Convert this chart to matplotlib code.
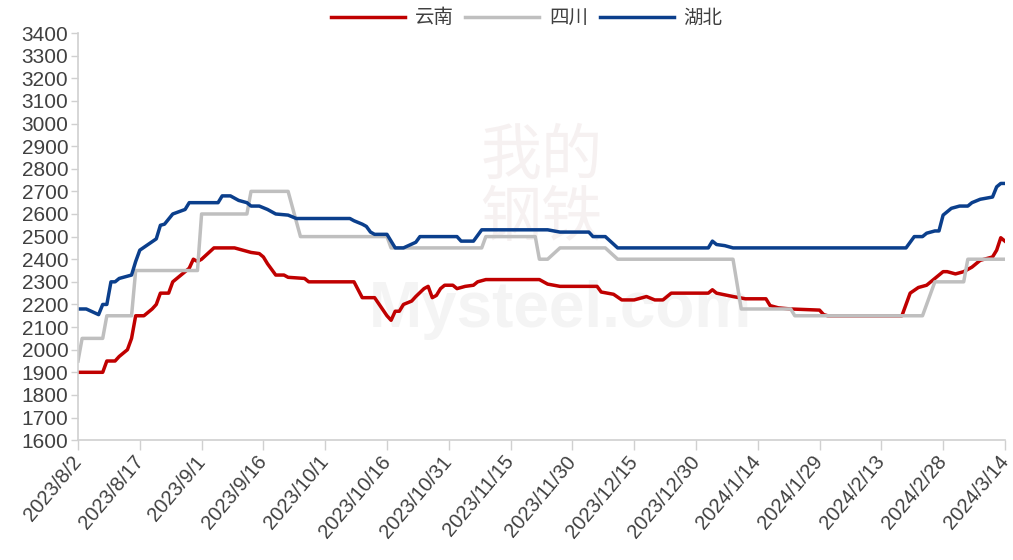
import datetime as dt
import matplotlib.pyplot as plt

plt.rcParams['font.family'] = ['Liberation Sans', 'DejaVu Sans']

# 云南
yn_dates = ['2023-08-02', '2023-08-08', '2023-08-09', '2023-08-11', '2023-08-12', '2023-08-14',
            '2023-08-15', '2023-08-16', '2023-08-18', '2023-08-20', '2023-08-21', '2023-08-22',
            '2023-08-24', '2023-08-25', '2023-08-27', '2023-08-29', '2023-08-30', '2023-08-31',
            '2023-09-01', '2023-09-04', '2023-09-09', '2023-09-11', '2023-09-13', '2023-09-15',
            '2023-09-16', '2023-09-17', '2023-09-19', '2023-09-21', '2023-09-22', '2023-09-26',
            '2023-09-27', '2023-10-08', '2023-10-09', '2023-10-10', '2023-10-13', '2023-10-16',
            '2023-10-17', '2023-10-18', '2023-10-19', '2023-10-20', '2023-10-22', '2023-10-23',
            '2023-10-25', '2023-10-26', '2023-10-27', '2023-10-28', '2023-10-29', '2023-10-30',
            '2023-11-01', '2023-11-02', '2023-11-04', '2023-11-06', '2023-11-07', '2023-11-09',
            '2023-11-22', '2023-11-24', '2023-11-27', '2023-12-06', '2023-12-07', '2023-12-10',
            '2023-12-12', '2023-12-15', '2023-12-18', '2023-12-20', '2023-12-22', '2023-12-24',
            '2024-01-02', '2024-01-03', '2024-01-04', '2024-01-08', '2024-01-11', '2024-01-16',
            '2024-01-17', '2024-01-19', '2024-01-22', '2024-01-29', '2024-01-30', '2024-01-31',
            '2024-02-18', '2024-02-19', '2024-02-20', '2024-02-22', '2024-02-24', '2024-02-26',
            '2024-02-28', '2024-02-29', '2024-03-02', '2024-03-04', '2024-03-06', '2024-03-08',
            '2024-03-11', '2024-03-12', '2024-03-13', '2024-03-14']
yn_values = [1900, 1900, 1950, 1950, 1970, 2000,
             2050, 2150, 2150, 2180, 2200, 2250,
             2250, 2300, 2330, 2360, 2400, 2390,
             2400, 2450, 2450, 2440, 2430, 2425,
             2410, 2380, 2330, 2330, 2320, 2315,
             2300, 2300, 2265, 2230, 2230, 2150,
             2130, 2170, 2170, 2200, 2215, 2235,
             2270, 2280, 2230, 2240, 2270, 2285,
             2285, 2270, 2280, 2285, 2300, 2310,
             2310, 2290, 2280, 2280, 2255, 2245,
             2220, 2220, 2235, 2220, 2220, 2250,
             2250, 2265, 2250, 2235, 2225, 2225,
             2195, 2185, 2180, 2175, 2155, 2150,
             2150, 2200, 2250, 2275, 2285, 2315,
             2345, 2345, 2335, 2345, 2365, 2395,
             2410, 2440, 2495, 2480]

# 四川
sc_dates = ['2023-08-02', '2023-08-03', '2023-08-08', '2023-08-09', '2023-08-15', '2023-08-16',
            '2023-08-31', '2023-09-01', '2023-09-12', '2023-09-13', '2023-09-22', '2023-09-25',
            '2023-10-16', '2023-10-17', '2023-11-08', '2023-11-09', '2023-11-21', '2023-11-22',
            '2023-11-24', '2023-11-27', '2023-12-08', '2023-12-11', '2024-01-08', '2024-01-10',
            '2024-01-22', '2024-01-23', '2024-02-23', '2024-02-26', '2024-03-04', '2024-03-05',
            '2024-03-14']
sc_values = [1950, 2050, 2050, 2150, 2150, 2350,
             2350, 2600, 2600, 2700, 2700, 2500,
             2500, 2450, 2450, 2500, 2500, 2400,
             2400, 2450, 2450, 2400, 2400, 2180,
             2180, 2150, 2150, 2300, 2300, 2400,
             2400]

# 湖北
hb_dates = ['2023-08-02', '2023-08-04', '2023-08-07', '2023-08-08', '2023-08-09', '2023-08-10',
            '2023-08-11', '2023-08-12', '2023-08-14', '2023-08-15', '2023-08-16', '2023-08-17',
            '2023-08-19', '2023-08-21', '2023-08-22', '2023-08-23', '2023-08-25', '2023-08-28',
            '2023-08-29', '2023-09-05', '2023-09-06', '2023-09-08', '2023-09-10', '2023-09-12',
            '2023-09-13', '2023-09-15', '2023-09-17', '2023-09-19', '2023-09-22', '2023-09-24',
            '2023-10-07', '2023-10-08', '2023-10-10', '2023-10-11', '2023-10-12', '2023-10-13',
            '2023-10-16', '2023-10-18', '2023-10-20', '2023-10-23', '2023-10-24', '2023-11-02',
            '2023-11-03', '2023-11-06', '2023-11-08', '2023-11-24', '2023-11-27', '2023-12-04',
            '2023-12-05', '2023-12-08', '2023-12-11', '2024-01-02', '2024-01-03', '2024-01-04',
            '2024-01-06', '2024-01-08', '2024-02-19', '2024-02-21', '2024-02-23', '2024-02-24',
            '2024-02-26', '2024-02-27', '2024-02-28', '2024-03-01', '2024-03-03', '2024-03-05',
            '2024-03-06', '2024-03-08', '2024-03-11', '2024-03-12', '2024-03-13', '2024-03-14']
hb_values = [2180, 2180, 2155, 2200, 2200, 2300,
             2300, 2315, 2325, 2330, 2390, 2440,
             2465, 2490, 2550, 2555, 2600, 2620,
             2650, 2650, 2680, 2680, 2660, 2650,
             2635, 2635, 2620, 2600, 2595, 2580,
             2580, 2570, 2555, 2545, 2520, 2510,
             2510, 2450, 2450, 2475, 2500, 2500,
             2480, 2480, 2530, 2530, 2520, 2520,
             2500, 2500, 2450, 2450, 2480, 2465,
             2460, 2450, 2450, 2500, 2500, 2515,
             2525, 2525, 2595, 2625, 2635, 2635,
             2650, 2665, 2675, 2720, 2735, 2735]


def to_dates(strings):
    return [dt.datetime.strptime(s, '%Y-%m-%d') for s in strings]


start = dt.datetime(2023, 8, 2)
end = dt.datetime(2024, 3, 14)
tick_dates = [start + dt.timedelta(days=15 * i) for i in range(16)]

fig = plt.figure(figsize=(10.13, 5.6), dpi=100)
ax = fig.add_axes([0.077, 0.214, 0.915, 0.727])

# Faint watermark
ax.text(0.5, 0.62, '我的\n钢铁', transform=ax.transAxes, ha='center', va='center',
        fontsize=44, color='#F6F1F1', family=['Noto Sans CJK SC', 'DejaVu Sans'],
        linespacing=1.0, zorder=0)
ax.text(0.52, 0.32, 'Mysteel.com', transform=ax.transAxes, ha='center', va='center',
        fontsize=46, color='#F4F4F4', fontweight='bold', zorder=0)

ax.plot(to_dates(yn_dates), yn_values, color='#C00000', lw=2.5, label='云南')
ax.plot(to_dates(sc_dates), sc_values, color='#BFBFBF', lw=2.5, label='四川')
ax.plot(to_dates(hb_dates), hb_values, color='#0B3F8C', lw=2.5, label='湖北')

ax.set_xlim(start, end)
ax.set_ylim(1600, 3400)
ax.set_yticks(range(1600, 3401, 100))
ax.set_xticks(tick_dates)
ax.set_xticklabels([f'{d.year}/{d.month}/{d.day}' for d in tick_dates],
                   rotation=50, ha='right', va='center', rotation_mode='anchor')

for side in ['top', 'right']:
    ax.spines[side].set_visible(False)
for side in ['left', 'bottom']:
    ax.spines[side].set_color('#D0D0D0')
    ax.spines[side].set_linewidth(1.2)

ax.tick_params(axis='y', length=5, width=1, color='#D0D0D0', labelsize=15, labelcolor='#404040', pad=2)
ax.tick_params(axis='x', length=7, width=1, color='#D0D0D0', labelsize=14.5, labelcolor='#404040', pad=6)

fig.legend(loc='center', bbox_to_anchor=(0.52, 0.968), ncol=3, frameon=False,
           prop={'family': ['Noto Sans CJK SC', 'DejaVu Sans'], 'size': 14},
           handlelength=3.8, handletextpad=0.5, columnspacing=0.6, labelcolor='#404040')

fig.savefig('out.png', dpi=100)
